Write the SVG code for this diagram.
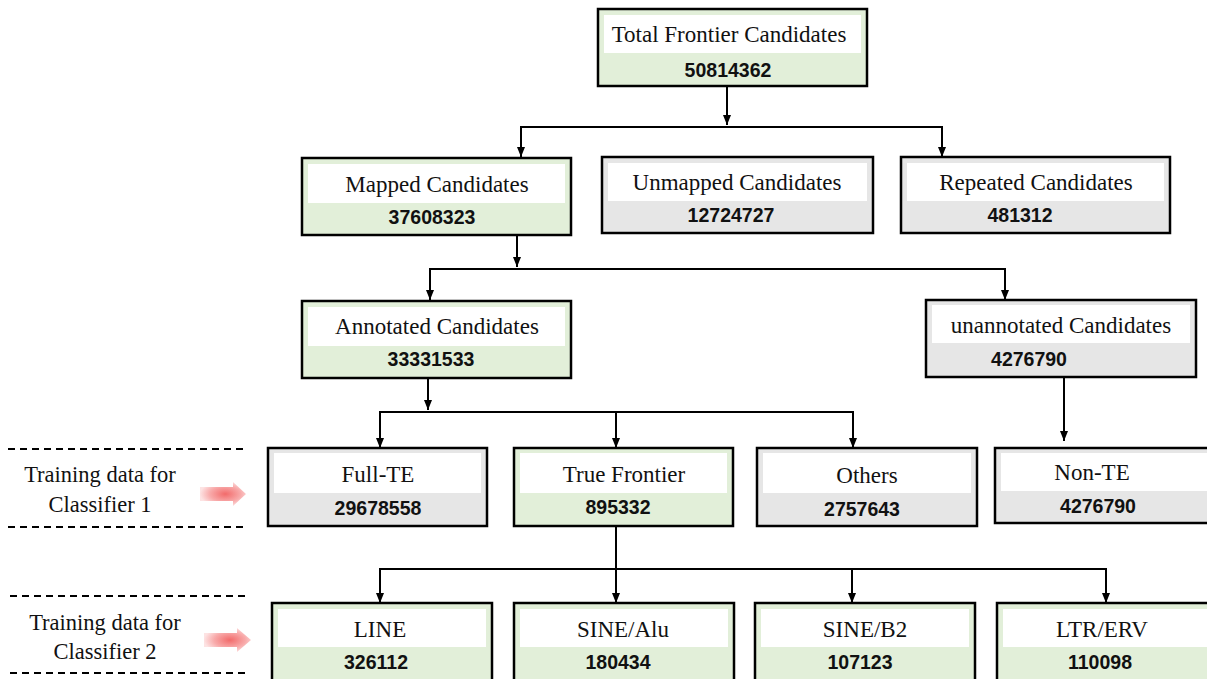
<svg xmlns="http://www.w3.org/2000/svg" width="1207" height="679" viewBox="0 0 1207 679">
<style>
.g{fill:#e2efd9;stroke:#000;stroke-width:2.5}
.s{fill:#e6e6e6;stroke:#000;stroke-width:2.5}
.w{fill:#fff;stroke:none}
.t{font-family:"Liberation Serif","Times New Roman",serif;font-size:23px;fill:#111;text-anchor:middle}
.n{font-family:"Liberation Sans",Arial,sans-serif;font-size:19.5px;font-weight:bold;fill:#111;text-anchor:middle}
.c{fill:none;stroke:#000;stroke-width:2}
.d{fill:none;stroke:#000;stroke-width:1.8;stroke-dasharray:7 5}
.lt{font-family:"Liberation Serif","Times New Roman",serif;font-size:22.5px;fill:#111;text-anchor:middle}
</style>
<defs>
<marker id="ah" markerUnits="userSpaceOnUse" markerWidth="10" markerHeight="10" viewBox="0 0 10 10" refX="10" refY="5" orient="auto">
<path d="M0,1 L10,5 L0,9 Z" fill="#000"/>
</marker>
<radialGradient id="pk" cx="0.55" cy="0.5" r="0.55">
<stop offset="0" stop-color="#f26b6b"/>
<stop offset="0.6" stop-color="#f8a9a9"/>
<stop offset="1" stop-color="#fde3e3"/>
</radialGradient>
</defs>

<g id="connectors">
<path class="c" d="M727,87 V125" marker-end="url(#ah)"/>
<path class="c" d="M520,127 H943"/>
<path class="c" d="M521,127 V157" marker-end="url(#ah)"/>
<path class="c" d="M942,127 V157" marker-end="url(#ah)"/>
<path class="c" d="M517,235 V267" marker-end="url(#ah)"/>
<path class="c" d="M429,269 H1006"/>
<path class="c" d="M430,269 V300" marker-end="url(#ah)"/>
<path class="c" d="M1005,269 V300" marker-end="url(#ah)"/>
<path class="c" d="M428,378 V410" marker-end="url(#ah)"/>
<path class="c" d="M379,412 H854"/>
<path class="c" d="M380,412 V448" marker-end="url(#ah)"/>
<path class="c" d="M616,412 V448" marker-end="url(#ah)"/>
<path class="c" d="M853,412 V448" marker-end="url(#ah)"/>
<path class="c" d="M1064,377 V441" marker-end="url(#ah)"/>
<path class="c" d="M616,526 V603" marker-end="url(#ah)"/>
<path class="c" d="M379,569 H1107"/>
<path class="c" d="M380,569 V603" marker-end="url(#ah)"/>
<path class="c" d="M852,569 V603" marker-end="url(#ah)"/>
<path class="c" d="M1106,569 V603" marker-end="url(#ah)"/>
</g>

<g id="legend1">
<line class="d" x1="8" y1="449" x2="247" y2="449"/>
<line class="d" x1="8" y1="527" x2="247" y2="527"/>
<text class="lt" x="100" y="482">Training data for</text>
<text class="lt" x="100" y="512">Classifier 1</text>
<path d="M200,487 H233 V482 L246,494 L233,506 V501 H200 Z" fill="url(#pk)"/>
</g>
<g id="legend2">
<line class="d" x1="10" y1="596" x2="250" y2="596"/>
<line class="d" x1="10" y1="673" x2="250" y2="673"/>
<text class="lt" x="105" y="630">Training data for</text>
<text class="lt" x="105" y="659">Classifier 2</text>
<path d="M204,633 H237 V628 L251,640 L237,652 V647 H204 Z" fill="url(#pk)"/>
</g>

<g id="total">
<rect class="g" x="598" y="9" width="269" height="77"/>
<rect class="w" x="604" y="15" width="257" height="38"/>
<text class="t" x="729" y="42">Total Frontier Candidates</text>
<text class="n" x="728" y="77">50814362</text>
</g>
<g id="mapped">
<rect class="g" x="302" y="158" width="269" height="77"/>
<rect class="w" x="308" y="164" width="257" height="39"/>
<text class="t" x="437" y="192">Mapped Candidates</text>
<text class="n" x="432" y="224">37608323</text>
</g>
<g id="unmapped">
<rect class="s" x="602" y="157" width="271" height="76"/>
<rect class="w" x="608" y="163" width="259" height="38"/>
<text class="t" x="737" y="190">Unmapped Candidates</text>
<text class="n" x="731" y="222">12724727</text>
</g>
<g id="repeated">
<rect class="s" x="901" y="157" width="269" height="76"/>
<rect class="w" x="907" y="163" width="257" height="38"/>
<text class="t" x="1036" y="190">Repeated Candidates</text>
<text class="n" x="1020" y="222">481312</text>
</g>
<g id="annotated">
<rect class="g" x="302" y="301" width="269" height="77"/>
<rect class="w" x="308" y="307" width="257" height="39"/>
<text class="t" x="437" y="334">Annotated Candidates</text>
<text class="n" x="431" y="366">33331533</text>
</g>
<g id="unannotated">
<rect class="s" x="926" y="300" width="270" height="77"/>
<rect class="w" x="932" y="305" width="258" height="38"/>
<text class="t" x="1061" y="333">unannotated Candidates</text>
<text class="n" x="1029" y="366">4276790</text>
</g>
<g id="fullte">
<rect class="s" x="268" y="448" width="219" height="78"/>
<rect class="w" x="274" y="453" width="207" height="40"/>
<text class="t" x="378" y="482">Full-TE</text>
<text class="n" x="378" y="515">29678558</text>
</g>
<g id="truefrontier">
<rect class="g" x="514" y="448" width="219" height="78"/>
<rect class="w" x="520" y="453" width="207" height="40"/>
<text class="t" x="624" y="482">True Frontier</text>
<text class="n" x="618" y="514">895332</text>
</g>
<g id="others">
<rect class="s" x="757" y="448" width="220" height="78"/>
<rect class="w" x="763" y="453" width="208" height="40"/>
<text class="t" x="867" y="483">Others</text>
<text class="n" x="862" y="516">2757643</text>
</g>
<g id="nonte">
<rect class="s" x="995" y="448" width="220" height="75"/>
<rect class="w" x="1001" y="453" width="210" height="38"/>
<text class="t" x="1092" y="480">Non-TE</text>
<text class="n" x="1098" y="513">4276790</text>
</g>
<g id="line">
<rect class="g" x="272" y="603" width="220" height="90"/>
<rect class="w" x="278" y="609" width="208" height="38"/>
<text class="t" x="380" y="637">LINE</text>
<text class="n" x="376" y="669">326112</text>
</g>
<g id="sinealu">
<rect class="g" x="514" y="603" width="220" height="90"/>
<rect class="w" x="520" y="609" width="208" height="38"/>
<text class="t" x="623" y="637">SINE/Alu</text>
<text class="n" x="618" y="669">180434</text>
</g>
<g id="sineb2">
<rect class="g" x="755" y="603" width="220" height="90"/>
<rect class="w" x="761" y="609" width="208" height="38"/>
<text class="t" x="865" y="637">SINE/B2</text>
<text class="n" x="860" y="669">107123</text>
</g>
<g id="ltrerv">
<rect class="g" x="997" y="603" width="220" height="90"/>
<rect class="w" x="1003" y="609" width="210" height="38"/>
<text class="t" x="1102" y="637">LTR/ERV</text>
<text class="n" x="1100" y="669">110098</text>
</g>
</svg>
